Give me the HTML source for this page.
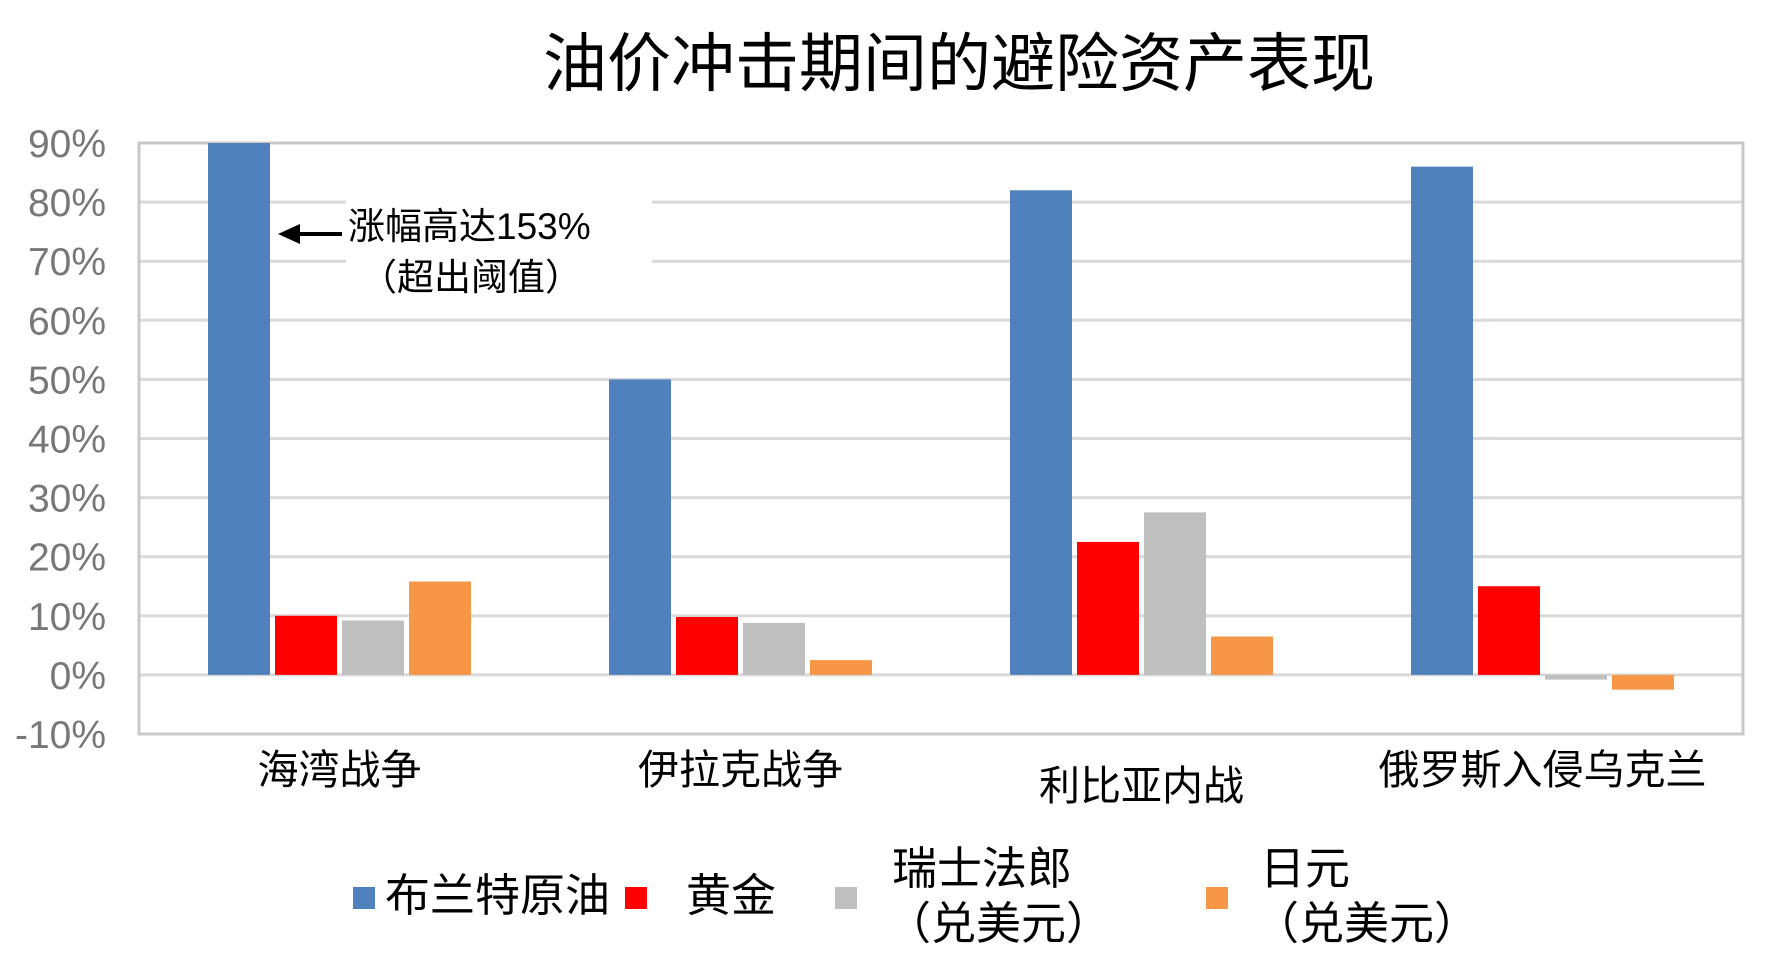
<!DOCTYPE html>
<html><head><meta charset="utf-8"><style>
body{margin:0;background:#fff;}
svg text{font-family:"Liberation Sans","Noto Sans CJK SC",sans-serif;}
</style></head><body>
<svg id="c" width="1781" height="973" viewBox="0 0 1781 973" xmlns="http://www.w3.org/2000/svg">
<text x="959" y="86" font-size="64" text-anchor="middle" fill="#000">油价冲击期间的避险资产表现</text>
<g id="grid"></g><g id="bars"></g><g id="ann"></g><g id="labels"></g>
<g id="legend"></g>
</svg>
<script>
const categories=["海湾战争","伊拉克战争","利比亚内战","俄罗斯入侵乌克兰"];
const brent=[153,50,82,86];
const gold=[10,9.8,22.5,15];
const chf=[9.2,8.8,27.5,-0.8];
const jpy=[15.8,2.5,6.5,-2.5];
const ticks=[-10,0,10,20,30,40,50,60,70,80,90];
const tickLabels=["-10%","0%","10%","20%","30%","40%","50%","60%","70%","80%","90%"];
const seriesNames=["布兰特原油","黄金","瑞士法郎","日元"];
const ns="http://www.w3.org/2000/svg";
const L=139,R=1743,T=143,B=734,ymin=-10,ymax=90;
const y=v=>B-(Math.max(ymin,Math.min(ymax,v))-ymin)/(ymax-ymin)*(B-T);
const gw=(R-L)/categories.length;
const x=(i,s)=>L+i*gw+69+s*67;
function mk(p,tag,a){const e=document.createElementNS(ns,tag);for(const k in a)e.setAttribute(k,a[k]);document.getElementById(p).appendChild(e);return e;}
ticks.forEach((t,i)=>{
 const ln=mk("grid","line",{x1:L,x2:R,y1:y(t),y2:y(t),stroke:"#d9d9d9","stroke-width":3});
 
 
 const tx=mk("grid","text",{x:106,y:y(t)+14,"font-size":39,"text-anchor":"end",fill:"#777"});
 tx.textContent=tickLabels[i];
 
 
});
const fr=mk("grid","rect",{x:L,y:T,width:R-L,height:B-T,fill:"none",stroke:"#c8c8c8","stroke-width":3});


const series=[brent,gold,chf,jpy];const colors=["#4f81bd","#ff0000","#bfbfbf","#f79646"];
series.forEach((arr,s)=>arr.forEach((v,i)=>{
 const y0=y(0),yv=y(v);
 const r=mk("bars","rect",{x:x(i,s),y:Math.min(y0,yv),width:62,height:Math.max(3,Math.abs(y0-yv)),fill:colors[s]});
 
 
}));
categories.forEach((c,i)=>{
 const t=mk("labels","text",{x:L+gw*i+gw/2,y:i==2?800:784,"font-size":41,"text-anchor":"middle",fill:"#000"});
 t.textContent=c;
 
 
});
const wb=mk("ann","rect",{x:346,y:190,width:306,height:82,fill:"#fff"});


const al=mk("ann","line",{x1:342,y1:234,x2:296,y2:234,stroke:"#000","stroke-width":4});


const ah=mk("ann","polygon",{points:"278,234 300,224 300,244",fill:"#000"});


const a1=mk("ann","text",{x:348,y:239,"font-size":37,fill:"#000"});a1.textContent="涨幅高达153%";


const a2=mk("ann","text",{x:360,y:290,"font-size":37,fill:"#000"});a2.textContent="（超出阈值）";


const lg=[[353,897,385,911,["布兰特原油"]],[625,897,686,911,["黄金"]],[835,897,892,884,["瑞士法郎","（兑美元）"]],[1206,897,1260,884,["日元","（兑美元）"]]];
lg.forEach((d,s)=>{
 const r=mk("legend","rect",{x:d[0],y:d[1]-10,width:22,height:22,fill:colors[s]});
 
 
 d[4].forEach((tx,j)=>{
  const t=mk("legend","text",{x:d[2]-(j?6:0),y:d[3]+j*55,"font-size":45,fill:"#000"});
  t.textContent=tx;
  
  
 });
});
</script>
</body></html>
